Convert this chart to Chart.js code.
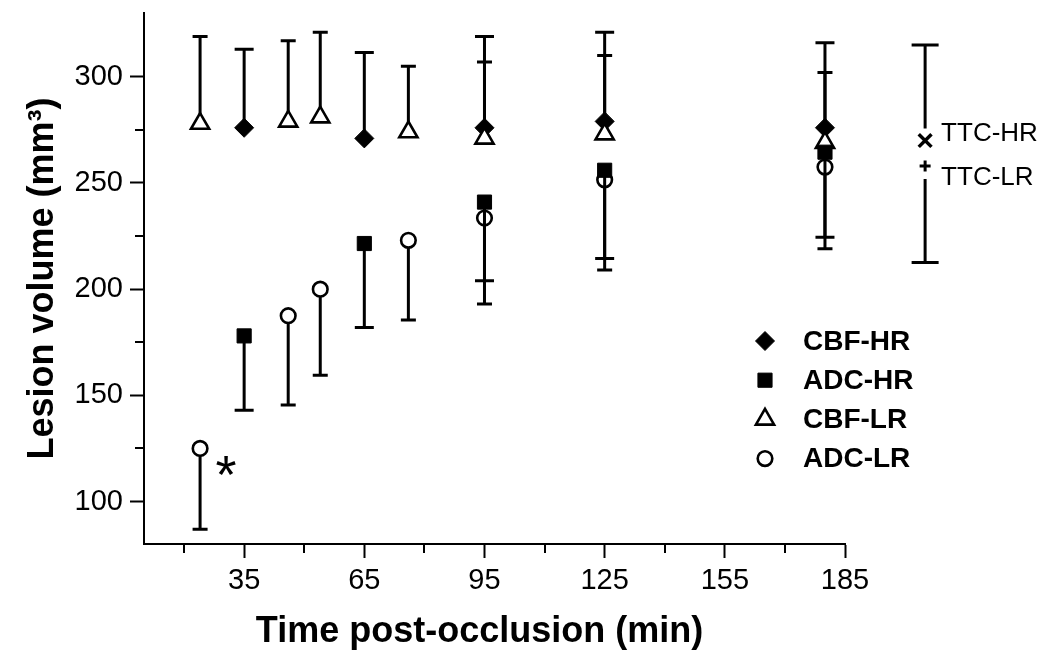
<!DOCTYPE html>
<html>
<head>
<meta charset="utf-8">
<script src="https://cdn.jsdelivr.net/npm/chart.js@4.4.1/dist/chart.umd.min.js"></script>
<style>
html,body{margin:0;padding:0;background:#fff;}
#wrap{width:1050px;height:662px;position:relative;}
</style>
</head>
<body>
<div id="wrap"><canvas id="c" width="1050" height="662"></canvas></div>
<script>
const FONT = '"Liberation Sans", Arial, Helvetica, sans-serif';

// ---- data ----
const timesHR = [35, 65, 95, 125, 180];
const timesLR = [24, 46, 54, 76, 95, 125, 180];

const cbfHR      = [276, 271, 276, 279, 276];
const cbfHRUpper = [313, 311.5, 319, 321, 316];

const adcHR      = [178, 221.5, 241, 256, 264.5];
const adcHRLower = [143, 182, 204, 214.5, 224.5];

const cbfLR      = [278, 279, 281, 274, 271, 273, 269];
const cbfLRUpper = [319, 317, 321, 305, 307, 310, 302];

const adcLR      = [125, 187.5, 200, 223, 233.5, 251.5, 257.5];
const adcLRLower = [87, 145.5, 159.5, 185.5, 193, 209, 219];
const adcLRMarks = ['*', '', '', '', '', '', ''];

const ttcTime    = [205];
const ttcHR      = [270];
const ttcHRUpper = [315];
const ttcLR      = [258];
const ttcLRLower = [212.5];

const xTicks      = [20, 35, 50, 65, 80, 95, 110, 125, 140, 155, 170, 185];
const xTickLabels = [35, 65, 95, 125, 155, 185];
const yTicks      = [100, 125, 150, 175, 200, 225, 250, 275, 300];
const yTickLabels = [100, 150, 200, 250, 300];

const xTitle = 'Time post-occlusion (min)';
const yTitle = 'Lesion volume (mm\u00b3)';

function pts(xs, ys) { return xs.map((x, i) => ({ x: x, y: ys[i] })); }

// ---- plugins ----
const errorBars = {
  id: 'errorBars',
  beforeDatasetDraw(chart, args) {
    const ds = chart.data.datasets[args.index];
    if (!ds.errorEnds) return;
    const xs = chart.scales.x, ys = chart.scales.y, ctx = chart.ctx;
    ctx.save();
    ctx.strokeStyle = '#000';
    ctx.lineWidth = 3;
    ctx.lineCap = 'butt';
    ds.data.forEach((p, i) => {
      const px = xs.getPixelForValue(p.x);
      const py = ys.getPixelForValue(p.y);
      const pe = ys.getPixelForValue(ds.errorEnds[i]);
      const dir = pe > py ? 1 : -1;
      const start = py + dir * (ds.errorGap || 0);
      ctx.beginPath();
      ctx.moveTo(px, start);
      ctx.lineTo(px, pe);
      const hw = ds.capWidth / 2;
      ctx.moveTo(px - hw, pe);
      ctx.lineTo(px + hw, pe);
      ctx.stroke();
    });
    ctx.restore();
  },
  afterDatasetDraw(chart, args) {
    // points that sit beyond the axis range (the TTC column) are drawn here
    const ds = chart.data.datasets[args.index];
    if (!ds.outsideAxis) return;
    const xs = chart.scales.x, ys = chart.scales.y;
    ds.data.forEach(p => {
      drawMarker(chart.ctx, ds, xs.getPixelForValue(p.x), ys.getPixelForValue(p.y));
    });
  }
};

function drawMarker(ctx, ds, x, y) {
  ctx.save();
  ctx.fillStyle = ds.pointBackgroundColor;
  ctx.strokeStyle = ds.pointBorderColor;
  ctx.lineWidth = ds.pointBorderWidth;
  Chart.helpers.drawPoint(ctx, {
    pointStyle: ds.pointStyle, radius: ds.pointRadius, rotation: 0, borderWidth: ds.pointBorderWidth
  }, x, y);
  ctx.restore();
}

const customLegend = {
  id: 'customLegend',
  afterDraw(chart) {
    const ctx = chart.ctx;
    const o = chart.options.plugins.customLegend;
    let row = 0;
    chart.data.datasets.forEach(ds => {
      if (!ds.inLegend) return;
      const y = o.y + row * o.rowGap;
      drawMarker(ctx, ds, o.x, y);
      ctx.save();
      ctx.fillStyle = '#000';
      ctx.font = 'bold 28px ' + FONT;
      ctx.textAlign = 'left';
      ctx.textBaseline = 'middle';
      ctx.fillText(ds.label, o.textX, y + 1);
      ctx.restore();
      row++;
    });
  }
};

const annotations = {
  id: 'annotations',
  afterDraw(chart) {
    const ctx = chart.ctx, xs = chart.scales.x, ys = chart.scales.y;
    ctx.save();
    ctx.fillStyle = '#000';
    chart.data.datasets.forEach(ds => {
      if (ds.sideLabel) {
        const p = ds.data[0];
        const px = xs.getPixelForValue(p.x), py = ys.getPixelForValue(p.y);
        ctx.font = '26px ' + FONT;
        ctx.textAlign = 'left';
        ctx.textBaseline = 'alphabetic';
        ctx.fillText(ds.label, px + 16, py + ds.sideLabel.dy);
      }
      if (ds.marks) {
        ds.data.forEach((p, i) => {
          if (!ds.marks[i]) return;
          const px = xs.getPixelForValue(p.x), py = ys.getPixelForValue(p.y);
          ctx.font = '54px ' + FONT;
          ctx.textAlign = 'center';
          ctx.textBaseline = 'alphabetic';
          ctx.fillText(ds.marks[i], px + 26, py + 45);
        });
      }
    });
    // minor ticks
    ctx.strokeStyle = '#000';
    ctx.lineWidth = 2;
    ctx.beginPath();
    xTicks.forEach(v => {
      if (xTickLabels.includes(v)) return;
      const px = Math.round(xs.getPixelForValue(v));
      ctx.moveTo(px, xs.top); ctx.lineTo(px, xs.top + 9);
    });
    yTicks.forEach(v => {
      if (yTickLabels.includes(v)) return;
      const py = Math.round(ys.getPixelForValue(v));
      ctx.moveTo(ys.right - 9, py); ctx.lineTo(ys.right, py);
    });
    ctx.stroke();
    ctx.restore();
  }
};

// ---- chart ----
Chart.defaults.font.family = FONT;
Chart.defaults.color = '#000';

const datasets = [
  { label: 'CBF-HR', data: pts(timesHR, cbfHR), errorEnds: cbfHRUpper, capWidth: 19,
    pointStyle: 'rectRot', pointRadius: 9.5, pointBackgroundColor: '#000', pointBorderColor: '#000',
    pointBorderWidth: 1, order: 3, inLegend: true },
  { label: 'ADC-HR', data: pts(timesHR, adcHR), errorEnds: adcHRLower, capWidth: 19,
    pointStyle: 'rect', pointRadius: 10, pointBackgroundColor: '#000', pointBorderColor: '#000',
    pointBorderWidth: 1, order: 0, inLegend: true },
  { label: 'CBF-LR', data: pts(timesLR, cbfLR), errorEnds: cbfLRUpper, capWidth: 15,
    pointStyle: 'triangle', pointRadius: 10.5, pointBackgroundColor: '#fff', pointBorderColor: '#000',
    pointBorderWidth: 2.6, order: 2, inLegend: true },
  { label: 'ADC-LR', data: pts(timesLR, adcLR), errorEnds: adcLRLower, capWidth: 15, marks: adcLRMarks,
    pointStyle: 'circle', pointRadius: 7.3, pointBackgroundColor: '#fff', pointBorderColor: '#000',
    pointBorderWidth: 2.6, order: 1, inLegend: true },
  { label: 'TTC-HR', data: pts(ttcTime, ttcHR), errorEnds: ttcHRUpper, capWidth: 27, errorGap: 12,
    pointStyle: 'crossRot', pointRadius: 9, pointBackgroundColor: '#000', pointBorderColor: '#000',
    pointBorderWidth: 3.5, order: 4, clip: false, outsideAxis: true, sideLabel: { dy: 0 } },
  { label: 'TTC-LR', data: pts(ttcTime, ttcLR), errorEnds: ttcLRLower, capWidth: 27, errorGap: 13,
    pointStyle: 'cross', pointRadius: 5.5, pointBackgroundColor: '#000', pointBorderColor: '#000',
    pointBorderWidth: 3, order: 5, clip: false, outsideAxis: true, sideLabel: { dy: 19 } }
];
datasets.forEach(d => { d.showLine = false; d.pointHoverRadius = d.pointRadius; });

new Chart(document.getElementById('c'), {
  type: 'scatter',
  data: { datasets: datasets },
  plugins: [errorBars, customLegend, annotations],
  options: {
    responsive: false,
    animation: false,
    events: [],
    layout: { padding: { left: 0, top: 8, right: 205, bottom: 0 } },
    plugins: {
      legend: { display: false },
      tooltip: { enabled: false },
      customLegend: { x: 765, y: 341, rowGap: 39.2, textX: 803 }
    },
    scales: {
      x: {
        type: 'linear', position: 'bottom', min: 10, max: 185,
        afterBuildTicks: s => { s.ticks = xTicks.map(v => ({ value: v })); },
        afterFit: s => { s.height = 118; s.paddingLeft = 0; s.paddingRight = 0; },
        ticks: {
          autoSkip: false, maxRotation: 0, padding: 6,
          font: { size: 29 }, color: '#000',
          callback: v => xTickLabels.includes(v) ? String(v) : ''
        },
        grid: {
          drawOnChartArea: false, drawTicks: true, tickLength: 14, tickWidth: 2,
          tickColor: c => (c.tick && xTickLabels.includes(c.tick.value)) ? '#000' : 'rgba(0,0,0,0)'
        },
        border: { display: true, color: '#000', width: 2 },
        title: {
          display: true, text: xTitle + '   ', color: '#000',
          font: { size: 36, weight: 'bold' }, padding: { top: 0, bottom: 8 }
        }
      },
      y: {
        type: 'linear', position: 'left', min: 80, max: 330,
        afterBuildTicks: s => { s.ticks = yTicks.map(v => ({ value: v })); },
        afterFit: s => { s.width = 144; s.paddingTop = 0; s.paddingBottom = 0; },
        ticks: {
          autoSkip: false, padding: 7,
          font: { size: 29 }, color: '#000',
          callback: v => yTickLabels.includes(v) ? String(v) : ''
        },
        grid: {
          drawOnChartArea: false, drawTicks: true, tickLength: 14, tickWidth: 2,
          tickColor: c => (c.tick && yTickLabels.includes(c.tick.value)) ? '#000' : 'rgba(0,0,0,0)'
        },
        border: { display: true, color: '#000', width: 2 },
        title: {
          display: true, text: yTitle, color: '#000',
          font: { size: 36, weight: 'bold' }, padding: { top: 21, bottom: 0 }
        }
      }
    }
  }
});
</script>
</body>
</html>
